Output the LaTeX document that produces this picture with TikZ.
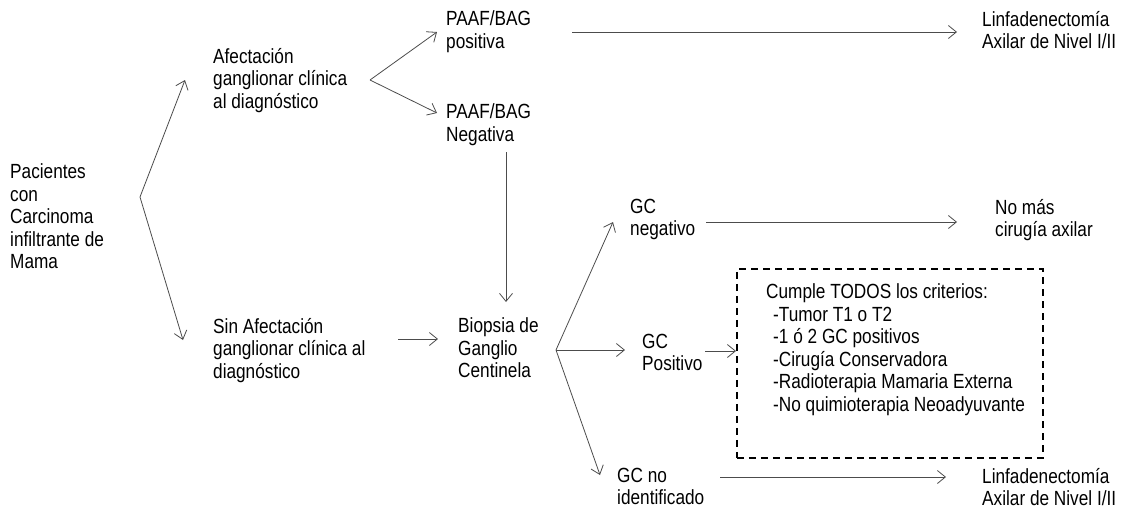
\documentclass[tikz,border=0pt]{standalone}
\usepackage{fontspec}
\setmainfont{Liberation Sans}[FakeStretch=0.84]
\usetikzlibrary{arrows.meta}
\tikzset{
  lbl/.style={anchor=north west, inner sep=0pt, align=left,
    font=\fontsize{20.5}{22.5}\selectfont, execute at begin node=\strut},
  conn/.style={draw=black!70, line width=0.8pt,
    -{Straight Barb[length=8pt,width=13pt,line width=0.8pt]}},
  critbox/.style={draw=black, line width=1.8pt, dash pattern=on 7pt off 5pt}
}
\begin{document}
\begin{tikzpicture}[x=1pt,y=-1pt]
\useasboundingbox (0,0) rectangle (1124,515);
% nodes
\node[lbl] (pac) at (10,163.75) {Pacientes\\con\\Carcinoma\\infiltrante de\\Mama};
\node[lbl] (afe) at (213,47.75) {Afectación\\ganglionar clínica\\al diagnóstico};
\node[lbl] (sin) at (213,317.75) {Sin Afectación\\ganglionar clínica al\\diagnóstico};
\node[lbl] (ppos) at (446,10.75) {PAAF/BAG\\positiva};
\node[lbl] (pneg) at (446,103.75) {PAAF/BAG\\Negativa};
\node[lbl] (lin1) at (982,10.75) {Linfadenectomía\\Axilar de Nivel I/II};
\node[lbl] (bio) at (458,317.75) {Biopsia de\\Ganglio\\Centinela};
\node[lbl] (gcn) at (630,198.75) {GC\\negativo};
\node[lbl] (nomas) at (995,198.75) {No más\\cirugía axilar};
\node[lbl] (gcp) at (642,333.75) {GC\\Positivo};
\node[lbl] (gcni) at (617,467.75) {GC no\\identificado};
\node[lbl] (lin2) at (982,467.75) {Linfadenectomía\\Axilar de Nivel I/II};
\node[critbox, minimum width=306pt, minimum height=189pt, anchor=north west, inner sep=0pt] (crit) at (736,268) {};
\node[lbl] (crittxt) at (766,283.75) {Cumple TODOS los criterios:\\
\hspace*{7pt}-Tumor T1 o T2\\
\hspace*{7pt}-1 ó 2 GC positivos\\
\hspace*{7pt}-Cirugía Conservadora\\
\hspace*{7pt}-Radioterapia Mamaria Externa\\
\hspace*{7pt}-No quimioterapia Neoadyuvante};
% junction points
\coordinate (j1) at (140,197);
\coordinate (j2) at (370,80);
\coordinate (j3) at (556,350);
% connectors
\draw[conn] (j1) -- (185,80);
\draw[conn] (j1) -- (183,340);
\draw[conn] (j2) -- (437,32);
\draw[conn] (j2) -- (437,113);
\draw[conn] (572,32) -- (957,32);
\draw[conn] (506,152) -- (506,302);
\draw[conn] (398,339) -- (438,339);
\draw[conn] (j3) -- (613,222);
\draw[conn] (j3) -- (625,350);
\draw[conn] (j3) -- (600,475);
\draw[conn] (706,222) -- (957,222);
\draw[conn] (705,351) -- (crit.west |- 0,351);
\draw[conn] (720,477) -- (946,477);
\end{tikzpicture}
\end{document}
